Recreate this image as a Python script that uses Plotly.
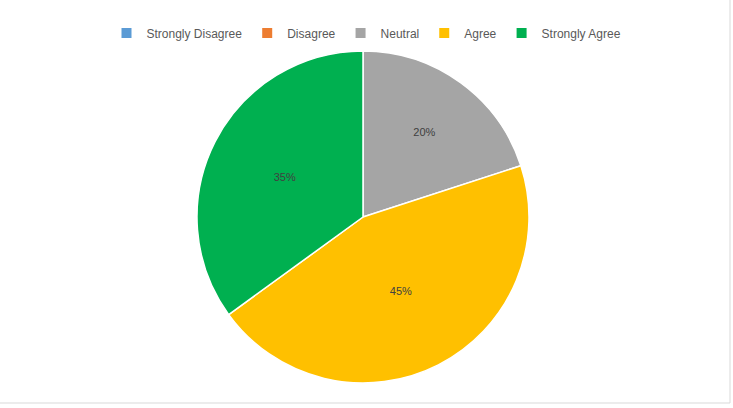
import plotly.graph_objects as go

labels = ["Strongly Disagree", "Disagree", "Neutral", "Agree", "Strongly Agree"]
values = [0, 0, 20, 45, 35]
colors = ["#5B9BD5", "#ED7D31", "#A5A5A5", "#FFC000", "#00B050"]

W, H = 733, 408
cx, cy, r = 363, 217, 166

fig = go.Figure()
fig.add_trace(go.Pie(
    labels=labels,
    values=values,
    sort=False,
    direction="clockwise",
    rotation=0,
    marker=dict(colors=colors, line=dict(color="white", width=1.5)),
    textinfo="percent",
    texttemplate="%{percent:.0%}",
    textposition="inside",
    insidetextorientation="horizontal",
    textfont=dict(family="Liberation Sans, Arial", size=11, color="#404040"),
    domain=dict(x=[(cx - r) / W, (cx + r) / W], y=[(H - cy - r) / H, (H - cy + r) / H]),
    showlegend=True,
    hoverinfo="label+percent",
))

fig.update_layout(
    width=W, height=H,
    margin=dict(l=0, r=0, t=0, b=0),
    paper_bgcolor="white",
    plot_bgcolor="white",
    legend=dict(
        orientation="h",
        x=0.5, xanchor="center",
        y=(H - 33) / H, yanchor="middle",
        font=dict(family="Liberation Sans, Arial", size=12, color="#595959"),
        itemsizing="constant",
        traceorder="normal",
    ),
    shapes=[
        dict(type="rect", xref="paper", yref="paper",
             x0=-0.01, x1=(W - 3) / W, y0=5 / H, y1=1.01,
             line=dict(color="#D9D9D9", width=1), fillcolor="rgba(0,0,0,0)", layer="below"),
    ],
)

fig.write_html("out.html")
